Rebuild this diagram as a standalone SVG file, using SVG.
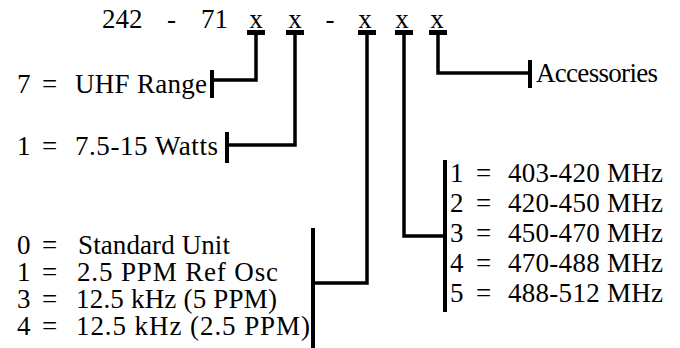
<svg xmlns="http://www.w3.org/2000/svg" width="680" height="348" viewBox="0 0 680 348">
<style>
text{font-family:'Liberation Serif','Times New Roman',Tinos,'Noto Serif','DejaVu Serif',serif;font-size:27px;fill:#000}
.c{fill:none;stroke:#000;stroke-width:3.5;stroke-linecap:square;stroke-linejoin:miter}
.b{fill:none;stroke:#000;stroke-width:4}
.h{fill:#000}
</style>
<rect width="680" height="348" fill="#fff"/>
<g id="code">
<text x="102" y="28">242</text>
<text x="167" y="28">-</text>
<text x="201" y="28">71</text>
<text x="256" y="28" text-anchor="middle">x</text>
<text x="295" y="28" text-anchor="middle">x</text>
<text x="330" y="28" text-anchor="middle">-</text>
<text x="365" y="28" text-anchor="middle">x</text>
<text x="402" y="28" text-anchor="middle">x</text>
<text x="437" y="28" text-anchor="middle">x</text>
</g>
<g id="range">
<text x="17" y="93">7</text><text x="42" y="93">=</text><text x="75" y="93" textLength="132">UHF Range</text>
</g>
<g id="watts">
<text x="17" y="155">1</text><text x="42" y="155">=</text><text x="75" y="155" textLength="143">7.5-15 Watts</text>
</g>
<g id="options">
<text x="17" y="254">0</text><text x="42" y="254">=</text><text x="78" y="254" textLength="152">Standard Unit</text>
<text x="17" y="281">1</text><text x="42" y="281">=</text><text x="77" y="281" textLength="201">2.5 PPM Ref Osc</text>
<text x="17" y="308">3</text><text x="42" y="308">=</text><text x="76" y="308" textLength="201">12.5 kHz (5 PPM)</text>
<text x="17" y="335">4</text><text x="42" y="335">=</text><text x="76" y="335" textLength="234">12.5 kHz (2.5 PPM)</text>
</g>
<g id="freq">
<text x="450" y="182">1</text><text x="476" y="182">=</text><text x="508" y="182" textLength="155">403-420 MHz</text>
<text x="450" y="212">2</text><text x="476" y="212">=</text><text x="508" y="212" textLength="155">420-450 MHz</text>
<text x="450" y="242">3</text><text x="476" y="242">=</text><text x="508" y="242" textLength="155">450-470 MHz</text>
<text x="450" y="272">4</text><text x="476" y="272">=</text><text x="508" y="272" textLength="155">470-488 MHz</text>
<text x="450" y="302">5</text><text x="476" y="302">=</text><text x="508" y="302" textLength="155">488-512 MHz</text>
</g>
<g id="accessories">
<text x="536" y="82" textLength="122">Accessories</text>
</g>
<g id="connectors">
<rect class="h" x="247" y="30" width="18" height="5"/>
<rect class="h" x="286" y="30" width="18" height="5"/>
<rect class="h" x="358" y="30" width="18" height="5"/>
<rect class="h" x="395" y="30" width="18" height="5"/>
<rect class="h" x="429" y="30" width="18" height="5"/>
<polyline class="c" points="256,33 256,80 212,80"/>
<line class="b" x1="212" y1="70" x2="212" y2="98"/>
<polyline class="c" points="295,33 295,145 227,145"/>
<line class="b" x1="227" y1="132" x2="227" y2="163"/>
<polyline class="c" points="367,33 367,283 313,283"/>
<line class="b" x1="313" y1="228" x2="313" y2="348"/>
<polyline class="c" points="404,33 404,236 445,236"/>
<line class="b" x1="445" y1="160" x2="445" y2="312"/>
<polyline class="c" points="438,33 438,73 530,73"/>
<line class="b" x1="530" y1="60" x2="530" y2="88"/>
</g>
</svg>
